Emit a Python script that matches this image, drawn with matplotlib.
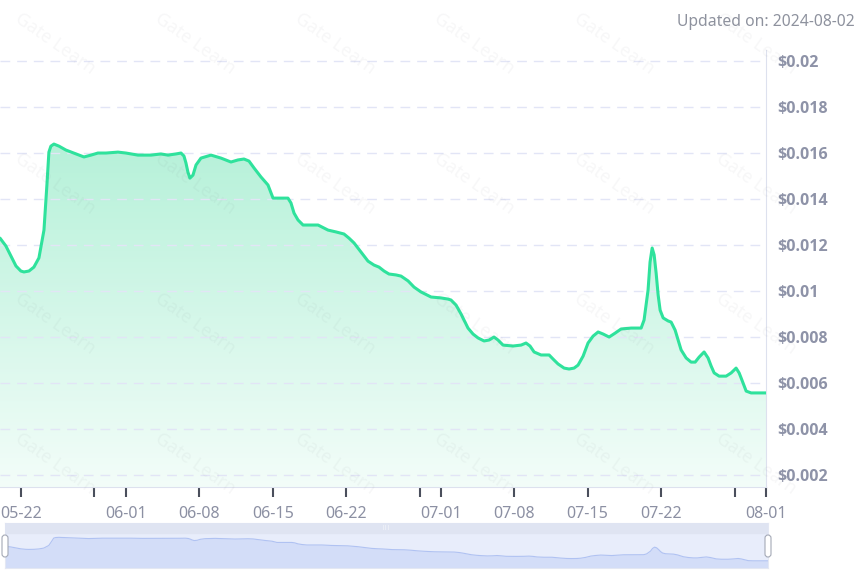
import numpy as np
import pandas as pd
import matplotlib
matplotlib.use('Agg')
import matplotlib.pyplot as plt
import matplotlib.dates as mdates
from matplotlib.patches import FancyBboxPatch, Rectangle
from matplotlib.colors import LinearSegmentedColormap
from matplotlib.transforms import IdentityTransform

# price history, days counted from 2024-05-20
start = pd.Timestamp('2024-05-20')
days = [0, 0.56, 1.04, 1.52, 1.99, 2.28, 2.76, 3.23, 3.71, 4.19,
        4.47, 4.66, 4.85, 5.14, 5.62, 6.28, 7.24, 8.0, 8.67, 9.33,
        10.1, 11.24, 12.0, 13.15, 14.39, 15.34, 16.01, 16.77, 17.25, 17.53,
        17.72, 17.91, 18.1, 18.39, 18.68, 19.15, 20.11, 21.06, 22.01, 22.68,
        23.25, 23.73, 24.21, 24.87, 25.54, 26.02, 26.78, 27.44, 27.73, 28.02,
        28.4, 28.88, 29.64, 30.31, 31.26, 32.02, 32.78, 33.26, 33.74, 34.4,
        35.07, 35.64, 36.12, 36.6, 37.07, 37.74, 38.22, 38.89, 39.46, 40.12,
        41.08, 42.03, 42.7, 42.98, 43.46, 43.94, 44.6, 45.08, 45.56, 46.13,
        46.61, 47.08, 47.46, 47.94, 48.89, 49.66, 50.13, 50.51, 50.9, 51.56,
        52.33, 52.8, 53.18, 53.76, 54.23, 54.71, 55.09, 55.57, 56.04, 56.52,
        57.0, 57.48, 58.05, 58.62, 59.19, 60.15, 61.1, 61.38, 61.57, 61.76,
        61.95, 62.15, 62.34, 62.53, 62.72, 62.91, 63.2, 63.67, 63.96, 64.34,
        64.62, 64.91, 65.39, 65.86, 66.25, 66.63, 67.1, 67.48, 67.77, 68.06,
        68.53, 69.2, 69.68, 70.15, 70.44, 70.63, 70.92, 71.11, 71.58, 72.54,
        73.0]
price = [0.01230, 0.01196, 0.01152, 0.01109, 0.01087, 0.01083, 0.01087, 0.01104, 0.01144, 0.01265,
         0.01461, 0.01604, 0.01630, 0.01639, 0.01630, 0.01613, 0.01596, 0.01583, 0.01591, 0.01600,
         0.01600, 0.01604, 0.01600, 0.01591, 0.01591, 0.01596, 0.01591, 0.01596, 0.01600, 0.01587,
         0.01557, 0.01517, 0.01491, 0.01504, 0.01548, 0.01578, 0.01591, 0.01578, 0.01561, 0.01570,
         0.01574, 0.01565, 0.01535, 0.01496, 0.01461, 0.01404, 0.01404, 0.01404, 0.01383, 0.01339,
         0.01309, 0.01287, 0.01287, 0.01287, 0.01265, 0.01257, 0.01248, 0.01230, 0.01209, 0.01170,
         0.01130, 0.01113, 0.01104, 0.01087, 0.01074, 0.01070, 0.01065, 0.01044, 0.01017, 0.00996,
         0.00974, 0.00970, 0.00965, 0.00961, 0.00939, 0.00900, 0.00839, 0.00813, 0.00796, 0.00783,
         0.00787, 0.00800, 0.00787, 0.00765, 0.00761, 0.00765, 0.00774, 0.00761, 0.00735, 0.00722,
         0.00722, 0.00700, 0.00683, 0.00665, 0.00661, 0.00665, 0.00678, 0.00717, 0.00774, 0.00804,
         0.00822, 0.00813, 0.00800, 0.00817, 0.00835, 0.00839, 0.00839, 0.00874, 0.00939, 0.01004,
         0.01126, 0.01187, 0.01157, 0.01078, 0.00983, 0.00917, 0.00883, 0.00870, 0.00865, 0.00830,
         0.00787, 0.00744, 0.00709, 0.00691, 0.00691, 0.00713, 0.00735, 0.00709, 0.00674, 0.00644,
         0.00630, 0.00630, 0.00644, 0.00665, 0.00644, 0.00622, 0.00587, 0.00565, 0.00557, 0.00557,
         0.00557]

tick_dates = ['2024-05-22', '2024-05-29', '2024-06-01', '2024-06-08', '2024-06-15',
              '2024-06-22', '2024-06-29', '2024-07-01', '2024-07-08', '2024-07-15',
              '2024-07-22', '2024-07-29', '2024-08-01']
tick_labels = ['05-22', '', '06-01', '06-08', '06-15', '06-22', '', '07-01',
               '07-08', '07-15', '07-22', '', '08-01']
y_ticks = [0.002, 0.004, 0.006, 0.008, 0.01, 0.012, 0.014, 0.016, 0.018, 0.02]
y_labels = ['$0.002', '$0.004', '$0.006', '$0.008', '$0.01', '$0.012',
            '$0.014', '$0.016', '$0.018', '$0.02']
updated = 'Updated on: 2024-08-02'

plt.rcParams['font.family'] = ['Noto Sans', 'DejaVu Sans']

x = mdates.date2num(start + pd.to_timedelta(days, unit='D'))
ymin, ymax = 0.00148, 0.02048

fig = plt.figure(figsize=(8.6, 5.73), dpi=100)
ax = fig.add_axes([0, 1 - 487 / 573, 766 / 860, 437 / 573])
ax.set_xlim(x[0], x[-1])
ax.set_ylim(ymin, ymax)

# gradient under the line
cmap = LinearSegmentedColormap.from_list('mint', ['#f3fdf9', '#b6f1d9'])
im = ax.imshow(np.linspace(0, 1, 256).reshape(-1, 1), cmap=cmap, aspect='auto',
               origin='lower', extent=[x[0], x[-1], ymin, max(price)], zorder=1)
area = ax.fill_between(x, price, ymin, facecolor='none', edgecolor='none')
im.set_clip_path(area.get_paths()[0], transform=ax.transData)
ax.plot(x, price, color='#2fe29c', lw=2.2, solid_joinstyle='round',
        solid_capstyle='round', zorder=3)

ax.yaxis.tick_right()
ax.set_yticks(y_ticks)
ax.set_yticklabels(y_labels)
ax.yaxis.grid(True, color='#e2e5f6', linestyle=(0, (7, 5)), lw=1)
ax.tick_params(axis='y', length=0, pad=8, labelsize=11.5, labelcolor='#8e93a8')
for t in ax.yaxis.get_major_ticks():
    t.label2.set_fontfamily(['Open Sans', 'DejaVu Sans'])
    t.label2.set_fontweight('bold')

ax.set_xticks(mdates.date2num(pd.to_datetime(tick_dates)))
ax.set_xticklabels(tick_labels)
ax.tick_params(axis='x', length=7, width=1.5, color='#4a4f5c', pad=7,
               labelsize=11.5, labelcolor='#8c90a3')

for s in ['top', 'left']:
    ax.spines[s].set_visible(False)
for s in ['right', 'bottom']:
    ax.spines[s].set_color('#dde1ee')

# zoom slider at the bottom
sl = fig.add_axes([5 / 860, 1 - 568 / 573, 763 / 860, 45 / 573])
sl.set_xlim(x[0], x[-1])
sl.set_ylim(0.00226, 0.023)
sl.set_facecolor('#e8edfb')
sl.fill_between(x, price, 0, color='#d3ddf8', lw=0, zorder=1)
sl.plot(x, price, color='#b0c2f2', lw=0.8, zorder=2)
sl.add_patch(Rectangle((0, 35 / 45), 1, 10 / 45, transform=sl.transAxes,
                       color='#dfe4f2', zorder=3))
sl.set_xticks([])
sl.set_yticks([])
for s in sl.spines.values():
    s.set_color('#e3e7f3')
    s.set_linewidth(0.8)

for hx in [2, 765]:
    fig.patches.append(FancyBboxPatch((hx, 573 - 557), 6, 22,
                                      boxstyle='round,pad=0,rounding_size=3',
                                      transform=IdentityTransform(),
                                      fc='white', ec='#a4a9b6', lw=0.8, zorder=5))
fig.text(386 / 860, 1 - 528 / 573, '|||', fontsize=4, color='white',
         ha='center', va='center')

# faint watermark
for wy in [10, 150, 290, 430]:
    for wx in [22, 162, 302, 441, 581, 723]:
        fig.text(wx / 860, 1 - wy / 573, 'Gate Learn', rotation=-35,
                 rotation_mode='anchor', fontsize=13, color='#60646e',
                 alpha=0.05, ha='left', va='top')

fig.text(855 / 860, 1 - 22 / 573, updated, ha='right', va='center',
         fontsize=11.3, color='#8e929e')

fig.savefig('out.png', dpi=100)
